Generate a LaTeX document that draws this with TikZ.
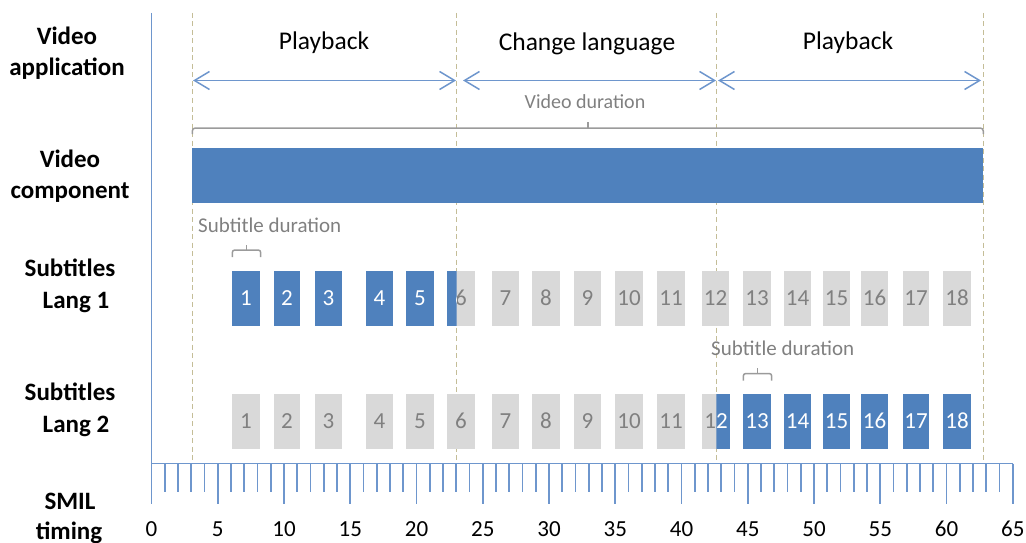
\documentclass[tikz,border=0pt]{standalone}
\usepackage{fontspec}
\setmainfont{Carlito}
\usetikzlibrary{arrows.meta}
\definecolor{officeblue}{RGB}{79,129,189}
\definecolor{boxgray}{RGB}{217,217,217}
\definecolor{numgray}{RGB}{128,128,128}
\definecolor{markertan}{RGB}{196,189,151}
\definecolor{linkblue}{RGB}{110,150,205}
\definecolor{bracegray}{RGB}{155,155,155}
\definecolor{notegray}{RGB}{128,128,128}
\begin{document}
\begin{tikzpicture}[x=1pt,y=-1pt,
  rowlabel/.style={font=\fontsize{25}{25}\selectfont\bfseries, anchor=base, inner sep=0},
  phase/.style={font=\fontsize{25.5}{25.5}\selectfont, anchor=base, inner sep=0},
  note/.style={font=\fontsize{21}{21}\selectfont, text=notegray, anchor=base, inner sep=0},
  axisnum/.style={font=\fontsize{23}{23}\selectfont, anchor=base, inner sep=0},
  subbox/.style={draw=none, inner sep=0, minimum height=55pt, text height=14.5pt,
    text depth=0pt, font=\fontsize{23}{23}\selectfont},
  onbox/.style={subbox, fill=officeblue, text=white},
  offbox/.style={subbox, fill=boxgray, text=numgray},
  marker/.style={draw=markertan, line width=1.2pt, dash pattern=on 5pt off 3.5pt},
  phasearrow/.style={draw=linkblue, line width=1.5pt,
    {Straight Barb[length=15pt,width=18pt]}-{Straight Barb[length=15pt,width=18pt]}},
  bracket/.style={draw=bracegray, line width=1.5pt, rounded corners=3pt},
  axisline/.style={draw=linkblue, line width=1.8pt}
]
\useasboundingbox (0,0) rectangle (1026,543);

% time markers (drawn first so the bars cover them)
\foreach \i/\x in {1/192.3, 2/456.7, 3/716.3, 4/983.3} {
  \coordinate (mt\i) at (\x,13);
  \coordinate (mb\i) at (\x,463);
  \draw[marker] (mt\i) -- (mb\i);
}

% row labels
\node[rowlabel] (l1a) at (67,45) {Video};
\node[rowlabel] (l1b) at (67,76) {application};
\node[rowlabel] (l2a) at (70,167) {Video};
\node[rowlabel] (l2b) at (70,198) {component};
\node[rowlabel] (l3a) at (70,276) {Subtitles};
\node[rowlabel] (l3b) at (76,308) {Lang 1};
\node[rowlabel] (l4a) at (70,400) {Subtitles};
\node[rowlabel] (l4b) at (76,432) {Lang 2};
\node[rowlabel] (l5a) at (70,509) {SMIL};
\node[rowlabel] (l5b) at (69,539) {timing};

% application phases
\node[phase] (ph1) at (324,50) {Playback};
\node[phase] (ph2) at (587,51) {Change language};
\node[phase] (ph3) at (848,50) {Playback};
\coordinate (a1s) at (193,80.5);
\coordinate (a1e) at (456,80.5);
\coordinate (a2s) at (463,80.5);
\coordinate (a2e) at (716,80.5);
\coordinate (a3s) at (718,80.5);
\coordinate (a3e) at (981,80.5);
\draw[phasearrow] (a1s) -- (a1e);
\draw[phasearrow] (a2s) -- (a2e);
\draw[phasearrow] (a3s) -- (a3e);

% video duration bracket
\node[note, font=\fontsize{20}{20}\selectfont] (vdur) at (585,109) {Video duration};
\coordinate (vb1) at (192.3,134);
\coordinate (vb2) at (983.3,134);
\coordinate (vbm) at (588,128);
\draw[bracket] (vb1) |- (vbm) -| (vb2);
\draw[bracket] (vbm) -- ++(0,-6);

% video component bar
\node[fill=officeblue, inner sep=0, minimum width=791pt, minimum height=55.5pt] (vbar) at (587.8,175.25) {};

% subtitles, language 1
\node[note, anchor=base west] (sd1) at (198,232) {Subtitle duration};
\coordinate (s1a) at (232.3,257);
\coordinate (s1b) at (260.7,257);
\coordinate (s1m) at (246.5,250);
\draw[bracket, rounded corners=2.5pt] (s1a) |- (s1m) -| (s1b);
\draw[bracket] (s1m) -- ++(0,-5.5);

\foreach \n/\l/\r/\s in {1/232/260/onbox, 2/274/300/onbox, 3/315/342/onbox,
    4/366/393/onbox, 5/406/434/onbox, 6/447/475/offbox, 7/492/519/offbox,
    8/532/560/offbox, 9/574/601/offbox, 10/615/643/offbox, 11/657/685/offbox,
    12/702/729/offbox, 13/743/771/offbox, 14/784/811/offbox, 15/823/850/offbox,
    16/861/888/offbox, 17/903/929/offbox, 18/943/971/offbox} {
  \node[\s, minimum width={\r-\l}] (x\n) at ({(\l+\r)/2},298.5) {\n};
}
% subtitle 6 is cut at the language change
\begin{scope}
  \clip (447,271) rectangle (456.7,326);
  \node[onbox, minimum width=28pt] (x6b) at (x6.center) {6};
\end{scope}

% subtitles, language 2
\node[note, anchor=base west] (sd2) at (711,355) {Subtitle duration};
\coordinate (s2a) at (743.3,380.5);
\coordinate (s2b) at (771.7,380.5);
\coordinate (s2m) at (757.5,373.5);
\draw[bracket, rounded corners=2.5pt] (s2a) |- (s2m) -| (s2b);
\draw[bracket] (s2m) -- ++(0,-5.5);

\foreach \n/\l/\r/\s in {1/232/260/offbox, 2/274/300/offbox, 3/315/342/offbox,
    4/366/393/offbox, 5/406/434/offbox, 6/447/475/offbox, 7/492/519/offbox,
    8/532/560/offbox, 9/574/601/offbox, 10/615/643/offbox, 11/657/685/offbox,
    12/702/730/offbox, 13/743/771/onbox, 14/784/811/onbox, 15/823/850/onbox,
    16/861/888/onbox, 17/903/929/onbox, 18/943/971/onbox} {
  \node[\s, minimum width={\r-\l}] (y\n) at ({(\l+\r)/2},421) {\n};
}
% subtitle 12 starts in language 1 and switches to language 2
\begin{scope}
  \clip (716.3,393) rectangle (730,449);
  \node[onbox, minimum width=28pt] (y12b) at (y12.center) {12};
\end{scope}

% SMIL timing axis
\coordinate (ax0) at (151.5,13);
\coordinate (ax1) at (151.5,463.5);
\coordinate (ax2) at (1012.8,463.5);
\draw[axisline] (ax0) -- (ax1) -- (ax2);
\foreach \v in {1,...,64} {
  \draw[axisline] ({151.5+13.25*\v},463.5) -- ++(0,28.5);
}
\foreach \v in {0,5,...,65} {
  \draw[axisline] ({151.5+13.25*\v},463.5) -- ++(0,40);
  \node[axisnum] (t\v) at ({151.5+13.25*\v},536) {\v};
}
\end{tikzpicture}
\end{document}
